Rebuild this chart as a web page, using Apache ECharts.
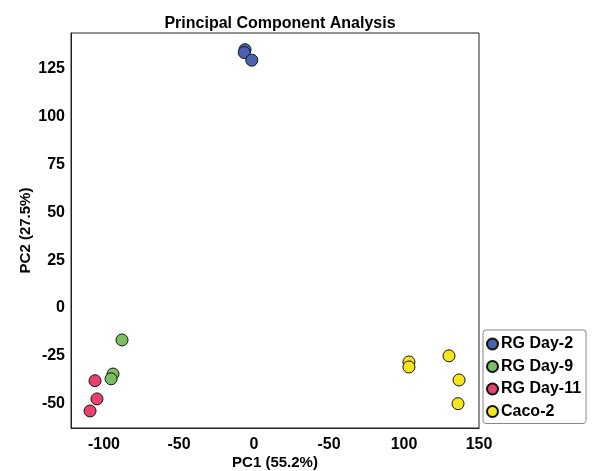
<!DOCTYPE html>
<html>
<head>
<meta charset="utf-8">
<script src="https://cdn.jsdelivr.net/npm/echarts@6/dist/echarts.min.js"></script>
<style>
html, body { margin: 0; padding: 0; background: #fff; }
#chartPca { width: 598px; height: 471px; }
</style>
</head>
<body>
<div id="chartPca"></div>
<script>
// PC1 / PC2 scores per group
const groupNames = ['RG Day-2', 'RG Day-9', 'RG Day-11', 'Caco-2']
const day2Points = [[-6, 135], [-6.5, 133.5], [-1.5, 129.5]]
const day9Points = [[-88, -16.7], [-94, -34.5], [-95.3, -37]]
const day11Points = [[-106, -38], [-104.7, -47.5], [-109.3, -53.8]]
const cacoPoints = [[103.3, -28.2], [103.3, -30.8], [130, -25], [136.7, -37.6], [136, -50]]

// tick labels as printed on the original (the 50 tick reads "-50")
const xTickValues = [-100, -50, 0, 50, 100, 150]
const xTickLabels = ['-100', '-50', '0', '-50', '100', '150']
const yTickValues = [-50, -25, 0, 25, 50, 75, 100, 125]

const groupColors = ['#4a62b0', '#79bf5f', '#e8416d', '#f5e61c']
const font = 'Liberation Sans, Arial, sans-serif'

const chartPca = echarts.init(document.getElementById('chartPca'))

const allData = [day2Points, day9Points, day11Points, cacoPoints]

chartPca.setOption({
  animation: false,
  title: {
    text: 'Principal Component Analysis',
    left: 275,
    textAlign: 'center',
    top: 11,
    textStyle: { fontFamily: font, fontSize: 16, fontWeight: 'bold', color: '#000' }
  },
  grid: {
    left: 71,
    right: 119,
    top: 33,
    bottom: 43,
    outerBoundsMode: 'none',
    containLabel: false,
    show: true,
    borderColor: '#222',
    borderWidth: 1
  },
  legend: {
    orient: 'vertical',
    left: 483,
    top: 330,
    padding: [6, 5, 4, 3],
    itemGap: 6.5,
    itemWidth: 11,
    itemHeight: 11,
    borderColor: '#888',
    borderWidth: 1,
    borderRadius: 3,
    icon: 'circle',
    data: groupNames,
    textStyle: { fontFamily: font, fontSize: 16, fontWeight: 'bold', color: '#000', padding: [0, 0, 0, -2] }
  },
  xAxis: {
    type: 'value',
    min: -122,
    max: 150,
    name: 'PC1 (55.2%)',
    nameLocation: 'middle',
    nameGap: 27,
    nameMoveOverlap: false,
    nameTextStyle: { fontFamily: font, fontSize: 15, fontWeight: 'bold', color: '#000' },
    splitLine: { show: false },
    axisLine: { show: true, onZero: false, lineStyle: { color: '#222' } },
    axisTick: { show: false },
    axisLabel: {
      customValues: xTickValues,
      margin: 9,
      fontFamily: font,
      fontSize: 16,
      fontWeight: 'bold',
      color: '#000',
      formatter: v => xTickLabels[xTickValues.indexOf(v)]
    }
  },
  yAxis: {
    type: 'value',
    min: -62.7,
    max: 143.7,
    name: 'PC2 (27.5%)',
    nameLocation: 'middle',
    nameGap: 38,
    nameMoveOverlap: false,
    nameTextStyle: { fontFamily: font, fontSize: 15, fontWeight: 'bold', color: '#000' },
    splitLine: { show: false },
    axisLine: { show: true, onZero: false, lineStyle: { color: '#222' } },
    axisTick: { show: false },
    axisLabel: {
      customValues: yTickValues,
      margin: 6,
      fontFamily: font,
      fontSize: 16,
      fontWeight: 'bold',
      color: '#000'
    }
  },
  series: groupNames.map((name, i) => ({
    name: name,
    type: 'scatter',
    symbolSize: 12,
    data: allData[i],
    itemStyle: { color: groupColors[i], borderColor: '#111', borderWidth: 1, opacity: 1 }
  }))
})
</script>
</body>
</html>
